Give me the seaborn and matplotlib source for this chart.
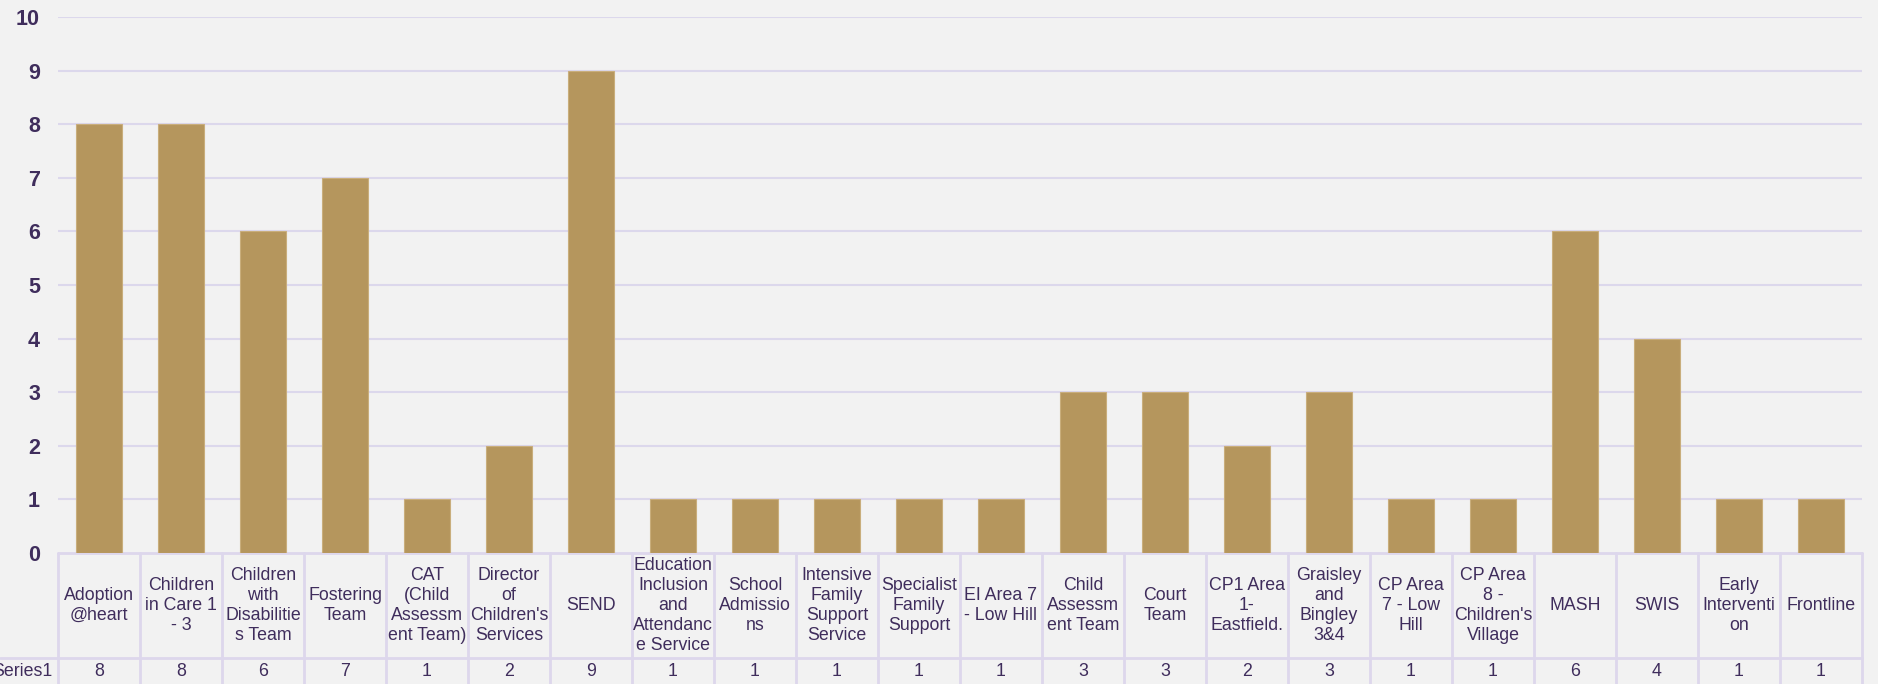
import matplotlib
matplotlib.use("Agg")
import matplotlib.pyplot as plt
from matplotlib.lines import Line2D
import seaborn as sns
import pandas as pd

categories = [
    "Adoption\n@heart", "Children\nin Care 1\n- 3", "Children\nwith\nDisabilitie\ns Team",
    "Fostering\nTeam", "CAT\n(Child\nAssessm\nent Team)", "Director\nof\nChildren's\nServices",
    "SEND", "Education\nInclusion\nand\nAttendanc\ne Service", "School\nAdmissio\nns",
    "Intensive\nFamily\nSupport\nService", "Specialist\nFamily\nSupport", "EI Area 7\n- Low Hill",
    "Child\nAssessm\nent Team", "Court\nTeam", "CP1 Area\n1-\nEastfield.",
    "Graisley\nand\nBingley\n3&4", "CP Area\n7 - Low\nHill", "CP Area\n8 -\nChildren's\nVillage",
    "MASH", "SWIS", "Early\nInterventi\non", "Frontline",
]
values = [8, 8, 6, 7, 1, 2, 9, 1, 1, 1, 1, 1, 3, 3, 2, 3, 1, 1, 6, 4, 1, 1]
series_name = "Series1"
y_ticks = [0, 1, 2, 3, 4, 5, 6, 7, 8, 9, 10]

BG = "#F2F2F2"
BAR = "#B5965D"
GRID = "#DCD8EC"
TXT = "#3F2D5C"

sns.set_theme(style="white")
plt.rcParams["font.family"] = ["Liberation Sans", "DejaVu Sans"]

W, H = 1878, 684
fig = plt.figure(figsize=(W / 100, H / 100), dpi=100, facecolor=BG)
left, right, top, bottom = 58, 1862, 17, 553
ax = fig.add_axes([left / W, (H - bottom) / H, (right - left) / W, (bottom - top) / H])
ax.set_facecolor(BG)

df = pd.DataFrame({"cat": categories, "val": values})
sns.barplot(data=df, x="cat", y="val", order=categories, color=BAR, saturation=1,
            width=0.57, edgecolor="#C9AE7C", linewidth=0.8, ax=ax, zorder=3)

n = len(categories)
ax.set_xlim(-0.5, n - 0.5)
ax.set_ylim(0, 10)
ax.set_yticks(y_ticks)
ax.set_yticklabels([str(t) for t in y_ticks], fontsize=15.5, fontweight="bold", color=TXT)
ax.tick_params(axis="y", length=0, pad=13)
ax.set_xticks([])
ax.set_xlabel("")
ax.set_ylabel("")
for s in ax.spines.values():
    s.set_visible(False)
for t in y_ticks[1:]:
    ax.axhline(t, color=GRID, lw=1.5, zorder=1)

# data table
ph = bottom - top  # axes height in px
def ya(py):
    return (bottom - py) / ph

tr = ax.get_xaxis_transform()
hdr_bot = 658
y_top = ya(bottom)
y_hdr = ya(hdr_bot)
y_end = ya(700)
lkw = dict(color="#DDD7EC", lw=2, transform=tr, clip_on=False, zorder=2)
ax.add_line(Line2D([-0.5, n - 0.5], [y_top, y_top], **lkw))
ax.add_line(Line2D([-0.5 - left / 82.0, n - 0.5], [y_hdr, y_hdr], **lkw))
for i in range(n + 1):
    ax.add_line(Line2D([i - 0.5, i - 0.5], [y_top, y_end], **lkw))

y_hc = ya((bottom + hdr_bot) / 2)
y_vc = ya(672)
fs = 12.8
for i, (c, v) in enumerate(zip(categories, values)):
    ax.text(i, y_hc, c, transform=tr, ha="center", va="center", fontsize=fs,
            color=TXT, linespacing=1.22, clip_on=False)
    ax.text(i, y_vc, str(v), transform=tr, ha="center", va="center", fontsize=fs,
            color=TXT, clip_on=False)
ax.text(-0.5 - 6 / 82.0, y_vc, series_name, transform=tr, ha="right", va="center",
        fontsize=fs, color=TXT, clip_on=False)

fig.savefig("out.png", dpi=100, facecolor=BG)
